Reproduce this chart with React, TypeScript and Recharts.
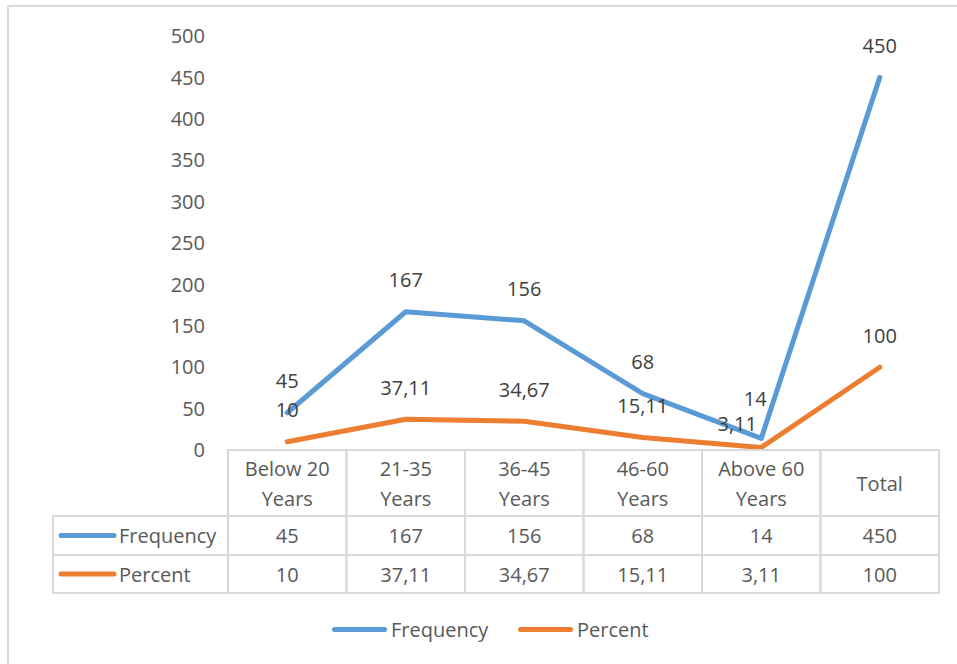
import React from 'react';
import { LineChart, Line, XAxis, YAxis, LabelList, Legend } from 'recharts';

// age groups, Excel style line chart with data table underneath
const categories = ['Below 20 Years', '21-35 Years', '36-45 Years', '46-60 Years', 'Above 60 Years', 'Total'];
const frequency = [45, 167, 156, 68, 14, 450];
const percent = [10, 37.11, 34.67, 15.11, 3.11, 100];
const yTicks = [0, 50, 100, 150, 200, 250, 300, 350, 400, 450, 500];

const seriesNames = ['Frequency', 'Percent'];
const seriesColors = ['#5B9BD5', '#ED7D31'];

const data = categories.map((c, i) => ({ category: c, Frequency: frequency[i], Percent: percent[i] }));

const FONT = '"Open Sans", sans-serif';
const AXIS_TEXT = '#595959';
const GRID = '#D9D9D9';
const COL_W = 118.5;
const ROW_TOP = 450;
const ROW1 = 516;
const ROW2 = 555;
const ROW_END = 593;
const LEFT_COL = 53;

const fmt = (v: number) => String(v).replace('.', ',');

function splitHeader(s: string): string[] {
  const k = s.lastIndexOf(' ');
  return k < 0 ? [s] : [s.slice(0, k), s.slice(k + 1)];
}

// each x tick draws one column of the data table
function TableTick(props: any) {
  const { x, payload, index } = props;
  const left = x - COL_W / 2;
  const lines = splitHeader(payload.value);
  const i = index ?? categories.indexOf(payload.value);
  const txt = { fontFamily: FONT, fontSize: 20, fill: AXIS_TEXT, textAnchor: 'middle' as const, dominantBaseline: 'central' as const };
  return (
    <g>
      <rect x={left} y={ROW_TOP} width={COL_W} height={ROW_END - ROW_TOP} fill="none" stroke={GRID} strokeWidth={2} />
      <line x1={left} x2={left + COL_W} y1={ROW1} y2={ROW1} stroke={GRID} strokeWidth={2} />
      <line x1={left} x2={left + COL_W} y1={ROW2} y2={ROW2} stroke={GRID} strokeWidth={2} />
      {lines.length === 2 ? (
        <>
          <text x={x} y={468} {...txt}>{lines[0]}</text>
          <text x={x} y={498} {...txt}>{lines[1]}</text>
        </>
      ) : (
        <text x={x} y={483} {...txt}>{lines[0]}</text>
      )}
      <text x={x} y={(ROW1 + ROW2) / 2} {...txt}>{fmt(frequency[i])}</text>
      <text x={x} y={(ROW2 + ROW_END) / 2} {...txt}>{fmt(percent[i])}</text>
      {i === 0 && (
        <g>
          <rect x={LEFT_COL} y={ROW1} width={left - LEFT_COL} height={ROW_END - ROW1} fill="none" stroke={GRID} strokeWidth={2} />
          <line x1={LEFT_COL} x2={left} y1={ROW2} y2={ROW2} stroke={GRID} strokeWidth={2} />
          {seriesNames.map((n, k) => {
            const cy = k === 0 ? (ROW1 + ROW2) / 2 : (ROW2 + ROW_END) / 2;
            return (
              <g key={n}>
                <line x1={61} x2={114} y1={cy} y2={cy} stroke={seriesColors[k]} strokeWidth={5} strokeLinecap="round" />
                <text x={119} y={cy} fontFamily={FONT} fontSize={20} fill={AXIS_TEXT} dominantBaseline="central">{n}</text>
              </g>
            );
          })}
        </g>
      )}
    </g>
  );
}

// Excel nudged the labels at "Above 60 Years" to avoid overlap
const makeLabel = (series: string) => (props: any) => {
  const { x, y, value, index } = props;
  let dx = 0;
  let dy = -32;
  if (index === 4) {
    if (series === 'Frequency') { dx = -6; dy = -40; } else { dx = -24; dy = -24; }
  }
  return (
    <text x={x + dx} y={y + dy} textAnchor="middle" dominantBaseline="central" fontFamily={FONT} fontSize={20} fill="#404040">
      {fmt(value)}
    </text>
  );
};

function LegendBox() {
  return (
    <div style={{ height: 64, position: 'relative', fontFamily: FONT, fontSize: 20, color: AXIS_TEXT }}>
      {seriesNames.map((n, k) => (
        <div key={n} style={{ position: 'absolute', left: k === 0 ? 332 : 518, top: 14, display: 'flex', alignItems: 'center', height: 30 }}>
          <span style={{ display: 'inline-block', width: 55, height: 5, borderRadius: 3, background: seriesColors[k], marginRight: 4 }} />
          <span>{n}</span>
        </div>
      ))}
    </div>
  );
}

export default function App() {
  return (
    <div style={{ position: 'absolute', left: 0, top: 0, width: 957, height: 664, overflow: 'hidden', background: '#fff' }}>
      <div style={{ position: 'absolute', left: 7, top: 5, width: 1000, height: 700, border: '2px solid #D9D9D9', boxSizing: 'border-box' }} />
      <LineChart width={957} height={664} data={data} margin={{ top: 36, right: 18, bottom: 0, left: 168 }}>
        <XAxis
          dataKey="category"
          interval={0}
          axisLine={false}
          tickLine={false}
          tickSize={0}
          tickMargin={0}
          height={150}
          padding={{ left: COL_W / 2, right: COL_W / 2 }}
          tick={<TableTick />}
        />
        <YAxis
          width={60}
          domain={[0, 500]}
          ticks={yTicks}
          interval={0}
          axisLine={false}
          tickLine={false}
          tickSize={0}
          tickMargin={23}
          tick={{ fontFamily: FONT, fontSize: 20, fill: AXIS_TEXT }}
        />
        <Line type="linear" dataKey="Frequency" stroke={seriesColors[0]} strokeWidth={5} strokeLinecap="round" strokeLinejoin="round" dot={false} activeDot={false} isAnimationActive={false}>
          <LabelList dataKey="Frequency" content={makeLabel('Frequency')} />
        </Line>
        <Line type="linear" dataKey="Percent" stroke={seriesColors[1]} strokeWidth={5} strokeLinecap="round" strokeLinejoin="round" dot={false} activeDot={false} isAnimationActive={false}>
          <LabelList dataKey="Percent" content={makeLabel('Percent')} />
        </Line>
        <Legend verticalAlign="bottom" height={64} content={() => <LegendBox />} wrapperStyle={{ left: 0, width: 957 }} />
      </LineChart>
    </div>
  );
}
